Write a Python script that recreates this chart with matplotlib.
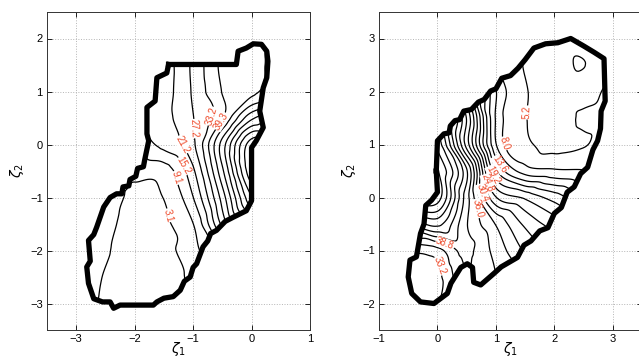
import matplotlib
matplotlib.use("Agg")
import matplotlib.pyplot as plt
import matplotlib.tri as mtri
import numpy as np
from matplotlib.path import Path

plt.rcParams["font.family"] = ["Liberation Sans", "DejaVu Sans"]

LABEL_RED = "#ee4a2a"

# left panel: field values on a 0.5 grid (rows = y, cols = x)
LEFT_X = [-3.0, -2.5, -2.0, -1.5, -1.0, -0.5, 0.0, 0.5]
LEFT_Y = [-3.0, -2.5, -2.0, -1.5, -1.0, -0.5, 0.0, 0.5, 1.0, 1.5, 2.0]
LEFT_Z = [
    [6.0, 2.4, 1.5, 2.5, 6.0, 12.0, 25.0, 40.0],
    [6.0, 2.8, 1.2, 1.8, 4.5, 12.0, 30.0, 45.0],
    [6.5, 3.6, 1.0, 1.6, 7.0, 20.0, 45.0, 60.0],
    [7.0, 4.5, 1.2, 2.2, 9.0, 35.0, 60.0, 80.0],
    [8.0, 5.5, 2.2, 3.3, 15.0, 42.0, 75.0, 90.0],
    [8.0, 6.0, 4.5, 6.0, 20.0, 50.0, 86.0, 95.0],
    [9.0, 10.0, 12.0, 17.0, 26.0, 54.0, 85.0, 85.0],
    [10.0, 12.0, 14.0, 19.0, 27.0, 39.0, 62.0, 70.0],
    [10.0, 12.0, 14.0, 18.5, 28.0, 39.5, 43.0, 52.0],
    [10.0, 12.0, 13.0, 18.0, 28.5, 40.5, 42.0, 50.0],
    [10.0, 12.0, 13.0, 18.0, 28.0, 40.0, 42.0, 48.0],
]
LEFT_LEVELS = [3.095, 9.125, 15.155, 21.185, 27.215, 33.245, 39.275, 45.305,
               51.335, 57.365, 63.395, 69.425, 75.455, 81.485]
LEFT_LABEL_LEVELS = [3.095, 9.125, 15.155, 21.185, 27.215, 33.245, 39.275]
LEFT_LABEL_POS = [(-1.54, -1.37), (-1.26, -0.62), (-1.15, -0.39), (-1.15, 0.02),
                  (-0.92, 0.30), (-0.66, 0.52), (-0.43, 0.36)]
LEFT_BOUNDARY = [
    (-1.42, 1.51), (-0.26, 1.51), (-0.23, 1.76), (-0.09, 1.82), (0.03, 1.90),
    (0.17, 1.89), (0.26, 1.76), (0.28, 1.57), (0.26, 1.26), (0.20, 1.07),
    (0.14, 0.63), (0.20, 0.32), (0.08, 0.07), (0.0, -0.06), (0.0, -1.06),
    (-0.09, -1.25), (-0.31, -1.37), (-0.45, -1.45), (-0.6, -1.62),
    (-0.7, -1.68), (-0.75, -1.82), (-0.83, -1.93), (-0.94, -2.25),
    (-1.0, -2.32), (-1.05, -2.50), (-1.15, -2.58), (-1.22, -2.75),
    (-1.34, -2.87), (-1.5, -2.9), (-1.62, -2.97), (-1.68, -3.03),
    (-2.25, -3.03), (-2.36, -3.09), (-2.42, -2.97), (-2.55, -2.97),
    (-2.70, -2.91), (-2.79, -2.62), (-2.82, -2.31), (-2.76, -2.2),
    (-2.79, -1.81), (-2.7, -1.7), (-2.65, -1.56), (-2.53, -1.18),
    (-2.42, -1.0), (-2.31, -0.93), (-2.22, -0.93), (-2.2, -0.8),
    (-2.1, -0.78), (-2.08, -0.66), (-1.98, -0.6), (-1.95, -0.45),
    (-1.85, -0.42), (-1.83, -0.3), (-1.76, 0.07), (-1.79, 0.20),
    (-1.79, 0.70), (-1.65, 0.82), (-1.62, 1.26), (-1.45, 1.35),
]

# right panel
RIGHT_X = [-1.0, -0.5, 0.0, 0.5, 1.0, 1.5, 2.0, 2.5, 3.0, 3.5]
RIGHT_Y = [-2.5, -2.0, -1.5, -1.0, -0.5, 0.0, 0.5, 1.0, 1.5, 2.0, 2.5, 3.0, 3.5]
RIGHT_Z = [
    [32.0, 32.0, 34.0, 36.0, 36.0, 35.0, 33.0, 31.0, 29.0, 28.0],
    [32.0, 31.0, 33.0, 37.0, 36.0, 34.0, 32.0, 30.0, 28.0, 27.0],
    [32.0, 31.0, 32.5, 38.5, 36.0, 33.0, 30.0, 28.0, 26.0, 25.0],
    [38.0, 34.0, 35.0, 39.5, 35.0, 30.0, 27.0, 25.0, 23.0, 22.0],
    [45.0, 45.0, 48.0, 39.0, 33.0, 27.0, 23.5, 20.0, 18.0, 16.0],
    [55.0, 58.0, 57.0, 40.0, 25.0, 21.5, 18.0, 14.0, 12.0, 11.0],
    [60.0, 60.0, 56.0, 42.0, 17.0, 9.5, 8.5, 8.2, 8.0, 8.0],
    [60.0, 60.0, 52.0, 32.0, 11.0, 6.0, 4.3, 5.0, 6.5, 7.0],
    [62.0, 60.0, 50.0, 33.0, 10.5, 5.4, 4.0, 5.6, 6.5, 7.0],
    [62.0, 60.0, 50.0, 28.0, 11.0, 5.5, 4.0, 4.0, 6.0, 6.5],
    [60.0, 58.0, 48.0, 28.0, 9.0, 5.0, 3.5, 2.32, 5.5, 6.0],
    [58.0, 55.0, 45.0, 25.0, 9.0, 5.2, 3.8, 3.5, 5.5, 6.0],
    [55.0, 52.0, 42.0, 23.0, 9.0, 5.5, 4.2, 4.0, 5.5, 6.0],
]
RIGHT_LEVELS = [2.4, 5.2, 8.0, 10.8, 13.6, 16.4, 19.2, 22.0, 24.8, 27.6, 30.4,
                33.2, 36.0, 38.8, 41.6, 44.4, 47.2, 50.0, 52.8, 55.6]
RIGHT_LABEL_LEVELS = [5.2, 8.0, 13.6, 19.2, 24.8, 30.4, 33.2, 36.0, 38.8]
RIGHT_LABEL_POS = [(1.6, 1.6), (1.2, 1.05), (1.0, 0.58), (0.9, 0.4), (0.82, 0.25),
                   (0.76, 0.08), (-0.06, -1.31), (0.71, -0.2), (0.12, -0.9)]
RIGHT_BOUNDARY = [
    (-0.02, 0.5), (0.0, 1.07), (0.11, 1.2), (0.2, 1.22), (0.22, 1.35),
    (0.3, 1.45), (0.38, 1.47), (0.45, 1.63), (0.58, 1.66), (0.7, 1.8),
    (0.8, 1.85), (0.91, 2.01), (1.0, 2.05), (1.1, 2.25), (1.25, 2.3),
    (1.38, 2.44), (1.5, 2.6), (1.65, 2.82), (1.85, 2.9), (2.06, 2.92),
    (2.28, 3.0), (2.5, 2.86), (2.68, 2.74), (2.85, 2.62), (2.87, 1.82),
    (2.8, 1.63), (2.79, 1.3), (2.74, 1.07), (2.66, 0.9), (2.57, 0.57),
    (2.45, 0.45), (2.34, 0.2), (2.22, 0.1), (2.12, -0.19), (2.0, -0.3),
    (1.89, -0.57), (1.75, -0.63), (1.60, -0.82), (1.48, -0.9), (1.37, -1.13),
    (1.09, -1.31), (0.97, -1.43), (0.74, -1.65), (0.62, -1.6), (0.6, -1.32),
    (0.51, -1.25), (0.40, -1.32), (0.23, -1.62), (0.17, -1.81),
    (-0.06, -2.0), (-0.29, -1.97), (-0.44, -1.81), (-0.50, -1.50),
    (-0.47, -1.18), (-0.36, -1.12), (-0.29, -0.68), (-0.23, -0.5),
    (-0.2, -0.15), (-0.1, -0.05), (0.0, 0.1),
]


def draw_panel(ax, xs, ys, zs, boundary, levels, label_levels, label_pos,
               xlim, ylim, xticks, yticks):
    gx, gy = np.meshgrid(xs, ys)
    z = np.asarray(zs, dtype=float).ravel()
    tri = mtri.Triangulation(gx.ravel(), gy.ravel())
    interp = mtri.CubicTriInterpolator(tri, z, kind="geom")
    tri_f, z_f = mtri.UniformTriRefiner(tri).refine_field(z, triinterpolator=interp, subdiv=4)

    # keep only the fine triangles inside the sampled region
    region = Path(boundary)
    cx = tri_f.x[tri_f.triangles].mean(axis=1)
    cy = tri_f.y[tri_f.triangles].mean(axis=1)
    tri_f.set_mask(~region.contains_points(np.column_stack([cx, cy])))

    ax.tricontour(tri_f, z_f, levels=levels, colors="k", linewidths=0.9, zorder=2)
    # a second, undrawn set of just the labelled levels carries the labels
    cs_lab = ax.tricontour(tri_f, z_f, levels=label_levels, colors="none", linewidths=0)
    texts = ax.clabel(cs_lab, manual=label_pos, fmt="%.1f", fontsize=7,
                      colors=LABEL_RED, inline=False)
    for t in texts:
        t.set_bbox(dict(facecolor="white", edgecolor="none", pad=0.3))
        t.set_zorder(4)

    bx = [p[0] for p in boundary] + [boundary[0][0]]
    by = [p[1] for p in boundary] + [boundary[0][1]]
    ax.plot(bx, by, color="k", lw=3.8, solid_joinstyle="round", zorder=3)

    ax.set_xlim(*xlim)
    ax.set_ylim(*ylim)
    ax.set_xticks(xticks)
    ax.set_yticks(yticks)
    ax.grid(True, color="#b5b5b5", linestyle=":", linewidth=0.7)
    ax.set_axisbelow(True)
    ax.tick_params(direction="in", top=True, right=True, length=3.5, width=0.6,
                   labelsize=8, pad=3)
    for sp in ax.spines.values():
        sp.set_linewidth(0.7)
        sp.set_color("#333333")
    ax.set_xlabel(r"$\zeta_1$", fontsize=10, labelpad=-3)
    ax.set_ylabel(r"$\zeta_2$", fontsize=10, labelpad=3)


fig = plt.figure(figsize=(6.39, 3.6), dpi=100)
ax1 = fig.add_axes([47 / 639, 30 / 360, 263 / 639, 318 / 360])
ax2 = fig.add_axes([379 / 639, 30 / 360, 263 / 639, 318 / 360])

draw_panel(ax1, LEFT_X, LEFT_Y, LEFT_Z, LEFT_BOUNDARY, LEFT_LEVELS,
           LEFT_LABEL_LEVELS, LEFT_LABEL_POS, (-3.5, 1), (-3.5, 2.5),
           [-3, -2, -1, 0, 1], [-3, -2, -1, 0, 1, 2])
draw_panel(ax2, RIGHT_X, RIGHT_Y, RIGHT_Z, RIGHT_BOUNDARY, RIGHT_LEVELS,
           RIGHT_LABEL_LEVELS, RIGHT_LABEL_POS, (-1, 3.5), (-2.5, 3.5),
           [-1, 0, 1, 2, 3], [-2, -1, 0, 1, 2, 3])

fig.savefig("out.png", dpi=100)
